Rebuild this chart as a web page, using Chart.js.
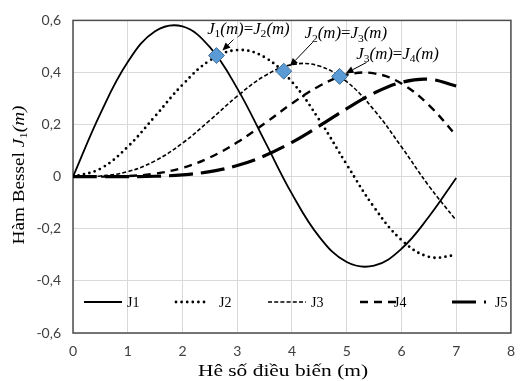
<!DOCTYPE html>
<html>
<head>
<meta charset="utf-8">
<script src="https://cdn.jsdelivr.net/npm/chart.js@4"></script>
<style>
body { margin: 0; background: #fff; }
</style>
</head>
<body>
<canvas id="graficoBessel" width="525" height="381"></canvas>
<script>
// valores (paso 0,5)
const m_vals = [0, 0.5, 1, 1.5, 2, 2.5, 3, 3.5, 4, 4.5, 5, 5.5, 6, 6.5, 7];
const j1_vals = [0, 0.2423, 0.4401, 0.5579, 0.5767, 0.4971, 0.3391, 0.1374, -0.0660, -0.2311, -0.3276, -0.3414, -0.2767, -0.1538, -0.0047];
const j2_vals = [0, 0.0306, 0.1149, 0.2321, 0.3528, 0.4461, 0.4861, 0.4586, 0.3641, 0.2178, 0.0466, -0.1173, -0.2429, -0.3074, -0.3014];
const j3_vals = [0, 0.0026, 0.0196, 0.0610, 0.1289, 0.2166, 0.3091, 0.3868, 0.4302, 0.4247, 0.3648, 0.2561, 0.1148, -0.0353, -0.1676];
const j4_vals = [0, 0.0002, 0.0025, 0.0118, 0.0340, 0.0738, 0.1320, 0.2044, 0.2811, 0.3484, 0.3912, 0.3967, 0.3576, 0.2748, 0.1578];
const j5_vals = [0, 0.0000, 0.0002, 0.0018, 0.0070, 0.0195, 0.0430, 0.0804, 0.1321, 0.1947, 0.2611, 0.3209, 0.3621, 0.3741, 0.3479];
const series_labels = ['J1', 'J2', 'J3', 'J4', 'J5'];

// puntos de cruce J(n)=J(n+1)
const cruce_m = [2.62, 3.85, 4.87];
const cruce_v = [0.465, 0.405, 0.385];
const cruce_idx = [['1', '2'], ['2', '3'], ['3', '4']];

const x_title = 'Hê số điều biến (m)';
const y_title = 'Hàm Bessel ';

const serif = '"Liberation Serif", "Times New Roman", serif';

const estilos = [
    { borderWidth: 1.8, borderDash: [], borderCapStyle: 'butt' },
    { borderWidth: 2.8, borderDash: [0, 5.6], borderCapStyle: 'round' },
    { borderWidth: 1.6, borderDash: [4, 2.2], borderCapStyle: 'butt' },
    { borderWidth: 2.4, borderDash: [8, 6], borderCapStyle: 'butt' },
    { borderWidth: 3.2, borderDash: [24, 8], borderCapStyle: 'butt' }
];

const todas = [j1_vals, j2_vals, j3_vals, j4_vals, j5_vals];
const datasets = todas.map((vals, i) => Object.assign({
    label: series_labels[i],
    data: m_vals.map((m, k) => ({ x: m, y: vals[k] })),
    showLine: true,
    borderColor: '#000',
    pointRadius: 0,
    tension: 0.4,
    fill: false,
    order: 2
}, estilos[i]));

datasets.push({
    label: 'cruces',
    data: cruce_m.map((m, k) => ({ x: m, y: cruce_v[k] })),
    showLine: false,
    pointStyle: 'rectRot',
    pointRadius: 8,
    backgroundColor: '#5b9bd5',
    borderColor: '#41719c',
    borderWidth: 1,
    order: 0
});

// texto con subindices: partes [texto, estilo] n normal, i italica, s subindice
function textoRico(ctx, partes, x, y, size, estirar, rot) {
    const fuente = (st) => st === 'n' ? `${size}px ${serif}` :
        st === 'i' ? `italic ${size}px ${serif}` : `${Math.round(size * 0.66)}px ${serif}`;
    let w = 0;
    partes.forEach(([t, st]) => { ctx.font = fuente(st); w += ctx.measureText(t).width; });
    ctx.save();
    ctx.translate(x, y);
    if (rot) ctx.rotate(rot);
    ctx.scale(estirar, 1);
    ctx.textBaseline = 'middle';
    ctx.textAlign = 'left';
    ctx.fillStyle = '#000';
    let cx = -w / 2;
    partes.forEach(([t, st]) => {
        ctx.font = fuente(st);
        ctx.fillText(t, cx, st === 's' ? size * 0.28 : 0);
        cx += ctx.measureText(t).width;
    });
    ctx.restore();
}

function flecha(ctx, x0, y0, x1, y1) {
    const ang = Math.atan2(y1 - y0, x1 - x0);
    const L = 8, W = 3.5;
    ctx.save();
    ctx.strokeStyle = '#000';
    ctx.fillStyle = '#000';
    ctx.lineWidth = 1;
    ctx.beginPath();
    ctx.moveTo(x0, y0);
    ctx.lineTo(x1 - Math.cos(ang) * L, y1 - Math.sin(ang) * L);
    ctx.stroke();
    ctx.beginPath();
    ctx.moveTo(x1, y1);
    ctx.lineTo(x1 - Math.cos(ang) * L - Math.sin(ang) * W, y1 - Math.sin(ang) * L + Math.cos(ang) * W);
    ctx.lineTo(x1 - Math.cos(ang) * L + Math.sin(ang) * W, y1 - Math.sin(ang) * L - Math.cos(ang) * W);
    ctx.closePath();
    ctx.fill();
    ctx.restore();
}

const marco = {
    id: 'marco',
    beforeDatasetsDraw(chart) {
        const { ctx, chartArea: a } = chart;
        ctx.save();
        ctx.strokeStyle = '#4d4d4d';
        ctx.lineWidth = 1.5;
        ctx.strokeRect(a.left, a.top, a.right - a.left, a.bottom - a.top);
        ctx.restore();
    },
    afterDraw(chart) {
        const { ctx, chartArea: a, scales } = chart;

        // leyenda dentro del grafico
        const ly = a.bottom - 31;
        series_labels.forEach((lab, i) => {
            const ds = chart.data.datasets[i];
            const x0 = a.left + 11 + i * 92;
            const len = i === 4 ? 34 : (i === 1 ? 33 : 38);
            ctx.save();
            ctx.strokeStyle = '#000';
            ctx.lineWidth = ds.borderWidth;
            ctx.lineCap = ds.borderCapStyle;
            ctx.setLineDash(ds.borderDash);
            ctx.beginPath();
            ctx.moveTo(x0, ly);
            ctx.lineTo(x0 + len, ly);
            ctx.stroke();
            ctx.restore();
            ctx.save();
            ctx.font = `14px ${serif}`;
            ctx.fillStyle = '#000';
            ctx.textBaseline = 'middle';
            ctx.fillText(lab, x0 + (i === 3 ? 34 : 43), ly + 1);
            ctx.restore();
        });

        // anotaciones de los cruces
        const offTexto = [[32, -26], [62, -37], [58, -22]];
        const offIni = [[17, -16], [29, -29], [27, -14]];
        const offPunta = [[6, -5], [6, -5], [6, -3]];
        cruce_m.forEach((m, k) => {
            const px = scales.x.getPixelForValue(m);
            const py = scales.y.getPixelForValue(cruce_v[k]);
            const [a1, b1] = cruce_idx[k];
            textoRico(ctx, [['J', 'i'], [a1, 's'], ['(m)', 'i'], ['=', 'n'], ['J', 'i'], [b1, 's'], ['(m)', 'i']],
                px + offTexto[k][0], py + offTexto[k][1], 16, 1.05, 0);
            flecha(ctx, px + offIni[k][0], py + offIni[k][1], px + offPunta[k][0], py + offPunta[k][1]);
        });

        // titulos de ejes
        textoRico(ctx, [[x_title, 'n']], 283, 372, 17, 1.26, 0);
        textoRico(ctx, [[y_title, 'n'], ['J', 'i'], ['1', 's'], ['(m)', 'i']], 20, 175, 16, 1.2, -Math.PI / 2);
    }
};

const ctx_b = document.getElementById('graficoBessel').getContext('2d');
const grafico = new Chart(ctx_b, {
    type: 'scatter',
    data: { datasets: datasets },
    options: {
        responsive: false,
        animation: false,
        devicePixelRatio: 1,
        layout: { padding: { left: 0, right: 3, top: 19, bottom: 0 } },
        plugins: {
            legend: { display: false },
            tooltip: { enabled: false }
        },
        scales: {
            x: {
                type: 'linear',
                min: 0,
                max: 8,
                afterFit: (s) => { s.height = 48; },
                ticks: {
                    stepSize: 1,
                    padding: 10,
                    color: '#404040',
                    font: { family: 'Lato', size: 14 }
                },
                grid: { color: '#d9d9d9', lineWidth: 1, drawTicks: false },
                border: { display: false }
            },
            y: {
                min: -0.6,
                max: 0.6,
                afterFit: (s) => { s.width = 73; },
                ticks: {
                    stepSize: 0.2,
                    padding: 12,
                    color: '#404040',
                    font: { family: 'Lato', size: 14 },
                    callback: (v) => {
                        const r = Math.round(v * 10) / 10;
                        return r === 0 ? '0' : r.toFixed(1).replace('.', ',');
                    }
                },
                grid: { color: '#d9d9d9', lineWidth: 1, drawTicks: false },
                border: { display: false }
            }
        }
    },
    plugins: [marco]
});
</script>
</body>
</html>
